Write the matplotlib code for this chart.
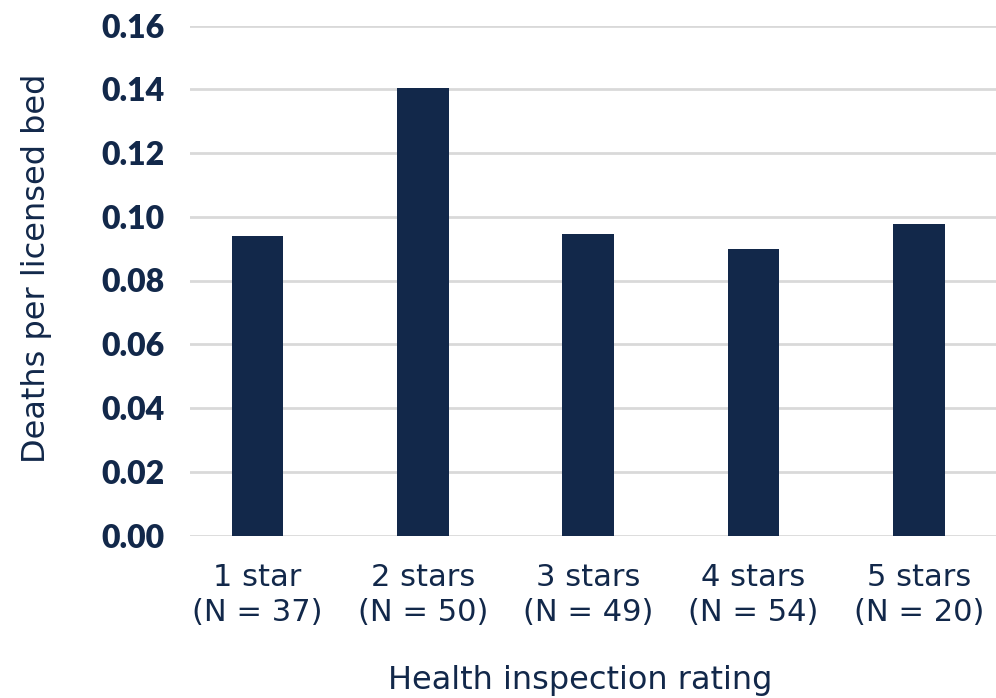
import matplotlib.pyplot as plt

categories = ['1 star\n(N = 37)', '2 stars\n(N = 50)', '3 stars\n(N = 49)',
              '4 stars\n(N = 54)', '5 stars\n(N = 20)']
deaths_per_bed = [0.0941, 0.1405, 0.0947, 0.0899, 0.0977]
yticks = [0.00, 0.02, 0.04, 0.06, 0.08, 0.10, 0.12, 0.14, 0.16]

navy = '#12284a'
plt.rcParams['font.family'] = ['DejaVu Sans']
tick_font = ['Lato', 'DejaVu Sans']

fig = plt.figure(figsize=(9.96, 6.98), dpi=100)
ax = fig.add_axes([190 / 996, (698 - 535.5) / 698, 806 / 996, 510 / 698])

x = list(range(len(categories)))
ax.bar(x, deaths_per_bed, width=0.311, color=navy, zorder=3)

ax.set_xlim(-0.408, 4.466)
ax.set_ylim(0, 0.16)
ax.set_yticks(yticks)
ax.set_yticklabels([f'{v:.2f}' for v in yticks], fontsize=23, fontweight='heavy',
                   color=navy, family=tick_font)
ax.set_xticks(x)
ax.set_xticklabels(categories, fontsize=22, color=navy, linespacing=1.25)
ax.tick_params(axis='y', length=0, pad=18.5)
ax.tick_params(axis='x', length=0, pad=20)

ax.grid(axis='y', color='#d9d9d9', linewidth=2, zorder=0)
ax.set_axisbelow(True)
for s in ax.spines.values():
    s.set_visible(False)

fig.text(37 / 996, 1 - 268 / 698, 'Deaths per licensed bed', rotation=90,
         ha='center', va='center', fontsize=23, color=navy)
fig.text(580 / 996, 1 - 680 / 698, 'Health inspection rating',
         ha='center', va='center', fontsize=23, color=navy)

fig.savefig('out.png', dpi=100)
